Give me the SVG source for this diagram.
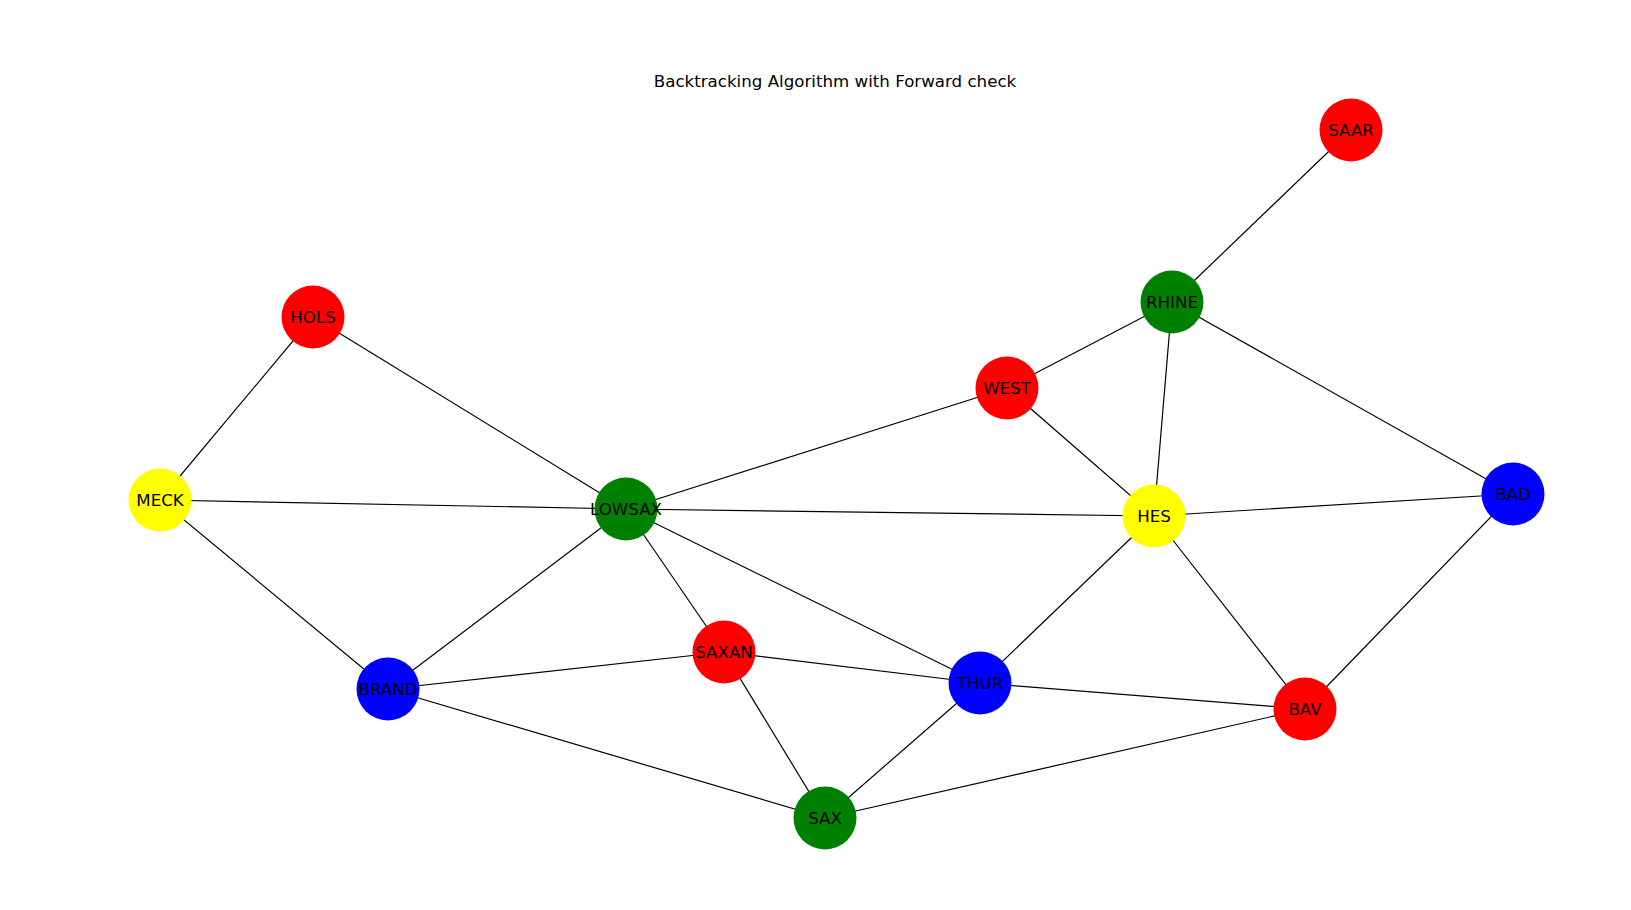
<svg xmlns="http://www.w3.org/2000/svg" width="1631" height="910" viewBox="0 0 1631 910">
<style>
.e{stroke:#000;stroke-width:1.2;fill:none}
.n circle{stroke:none}
.t{font-family:"DejaVu Sans",sans-serif;font-size:16.67px;fill:#000;text-anchor:middle;dominant-baseline:central}
.r{fill:#ff0000}.g{fill:#008000}.b{fill:#0000ff}.y{fill:#ffff00}
</style>
<rect width="1631" height="910" fill="#fff"/>
<text class="t" x="835" y="81">Backtracking Algorithm with Forward check</text>
<g id="edges">
<line class="e" x1="1351" y1="130" x2="1172" y2="302"/>
<line class="e" x1="1172" y1="302" x2="1007" y2="388"/>
<line class="e" x1="1172" y1="302" x2="1154" y2="516"/>
<line class="e" x1="1172" y1="302" x2="1513" y2="494"/>
<line class="e" x1="313" y1="317" x2="160" y2="500"/>
<line class="e" x1="313" y1="317" x2="626" y2="509"/>
<line class="e" x1="1007" y1="388" x2="626" y2="509"/>
<line class="e" x1="1007" y1="388" x2="1154" y2="516"/>
<line class="e" x1="160" y1="500" x2="626" y2="509"/>
<line class="e" x1="160" y1="500" x2="388" y2="689"/>
<line class="e" x1="626" y1="509" x2="1154" y2="516"/>
<line class="e" x1="626" y1="509" x2="388" y2="689"/>
<line class="e" x1="626" y1="509" x2="724" y2="652"/>
<line class="e" x1="626" y1="509" x2="980" y2="683"/>
<line class="e" x1="1154" y1="516" x2="1513" y2="494"/>
<line class="e" x1="1154" y1="516" x2="980" y2="683"/>
<line class="e" x1="1154" y1="516" x2="1305" y2="709"/>
<line class="e" x1="1513" y1="494" x2="1305" y2="709"/>
<line class="e" x1="388" y1="689" x2="724" y2="652"/>
<line class="e" x1="388" y1="689" x2="825" y2="818"/>
<line class="e" x1="724" y1="652" x2="980" y2="683"/>
<line class="e" x1="724" y1="652" x2="825" y2="818"/>
<line class="e" x1="980" y1="683" x2="1305" y2="709"/>
<line class="e" x1="980" y1="683" x2="825" y2="818"/>
<line class="e" x1="825" y1="818" x2="1305" y2="709"/>
</g>
<g id="SAAR" class="n"><circle class="r" cx="1351" cy="130" r="31.5"/><text class="t" x="1351" y="130">SAAR</text></g>
<g id="RHINE" class="n"><circle class="g" cx="1172" cy="302" r="31.5"/><text class="t" x="1172" y="302">RHINE</text></g>
<g id="HOLS" class="n"><circle class="r" cx="313" cy="317" r="31.5"/><text class="t" x="313" y="317">HOLS</text></g>
<g id="WEST" class="n"><circle class="r" cx="1007" cy="388" r="31.5"/><text class="t" x="1007" y="388">WEST</text></g>
<g id="MECK" class="n"><circle class="y" cx="160" cy="500" r="31.5"/><text class="t" x="160" y="500">MECK</text></g>
<g id="LOWSAX" class="n"><circle class="g" cx="626" cy="509" r="31.5"/><text class="t" x="626" y="509">LOWSAX</text></g>
<g id="HES" class="n"><circle class="y" cx="1154" cy="516" r="31.5"/><text class="t" x="1154" y="516">HES</text></g>
<g id="BAD" class="n"><circle class="b" cx="1513" cy="494" r="31.5"/><text class="t" x="1513" y="494">BAD</text></g>
<g id="SAXAN" class="n"><circle class="r" cx="724" cy="652" r="31.5"/><text class="t" x="724" y="652">SAXAN</text></g>
<g id="BRAND" class="n"><circle class="b" cx="388" cy="689" r="31.5"/><text class="t" x="388" y="689">BRAND</text></g>
<g id="THUR" class="n"><circle class="b" cx="980" cy="683" r="31.5"/><text class="t" x="980" y="683">THUR</text></g>
<g id="BAV" class="n"><circle class="r" cx="1305" cy="709" r="31.5"/><text class="t" x="1305" y="709">BAV</text></g>
<g id="SAX" class="n"><circle class="g" cx="825" cy="818" r="31.5"/><text class="t" x="825" y="818">SAX</text></g>
</svg>
